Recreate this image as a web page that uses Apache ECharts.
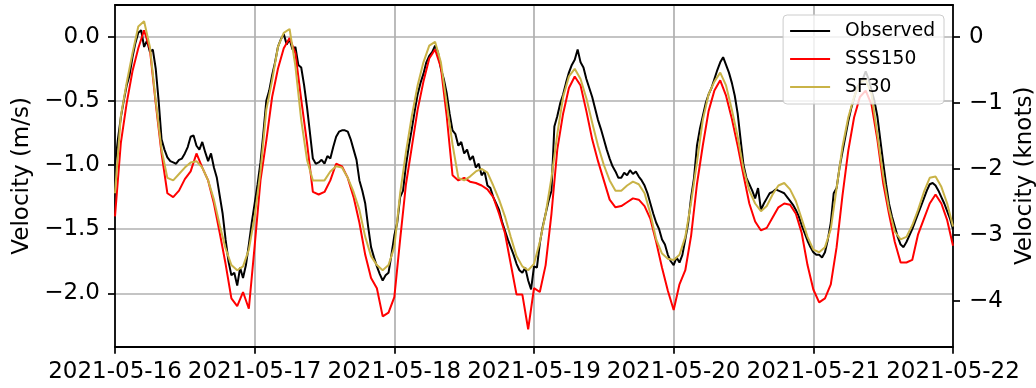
<!DOCTYPE html>
<html>
<head>
<meta charset="utf-8">
<script src="https://cdn.jsdelivr.net/npm/echarts@6/dist/echarts.min.js"></script>
<style>html,body{margin:0;padding:0;background:#fff}#c{width:1036px;height:388px}</style>
</head>
<body>
<div id="c"></div>
<script>
// ---- data (readings starting 2021-05-16 00:00 UTC) ----
const startDate = '2021-05-16T00:00:00Z';
const observedStepHours = 0.5;
const modelStepHours = 1;
const xTickLabels = ['2021-05-16','2021-05-17','2021-05-18','2021-05-19','2021-05-20','2021-05-21','2021-05-22'];
const leftTicks = [0, -0.5, -1.0, -1.5, -2.0];
const rightTicks = [0, -1, -2, -3, -4];
const yRange = [-2.416, 0.247];
const knotsPerMs = 1 / 0.514444;

// observed, every 30 minutes
const observed = [
 -1.00,-0.80,-0.63,-0.50,-0.38,-0.30,-0.16,-0.05,0.03,0.05,-0.08,-0.03,-0.12,-0.10,-0.25,-0.50,-0.80,-0.88,-0.94,-0.97,-0.98,-0.99,-0.96,-0.95,
 -0.91,-0.86,-0.78,-0.77,-0.85,-0.88,-0.82,-0.90,-0.97,-0.91,-1.02,-1.10,-1.24,-1.38,-1.58,-1.75,-1.86,-1.84,-1.94,-1.80,-1.88,-1.78,-1.62,-1.45,
 -1.30,-1.15,-0.98,-0.75,-0.50,-0.42,-0.30,-0.20,-0.08,-0.02,0.02,-0.06,-0.02,-0.10,-0.08,-0.22,-0.24,-0.38,-0.55,-0.75,-0.95,-0.99,-0.98,-0.96,
 -0.99,-0.93,-0.95,-0.86,-0.78,-0.74,-0.73,-0.73,-0.74,-0.80,-0.88,-0.96,-1.12,-1.20,-1.30,-1.48,-1.64,-1.72,-1.79,-1.85,-1.90,-1.86,-1.84,-1.70,
 -1.55,-1.45,-1.25,-1.20,-1.00,-0.85,-0.72,-0.58,-0.45,-0.36,-0.29,-0.20,-0.15,-0.12,-0.07,-0.12,-0.25,-0.33,-0.44,-0.60,-0.73,-0.76,-0.85,-0.82,
 -0.91,-0.88,-0.96,-0.93,-1.02,-0.99,-1.08,-1.05,-1.16,-1.18,-1.25,-1.30,-1.35,-1.44,-1.51,-1.58,-1.64,-1.70,-1.77,-1.82,-1.84,-1.80,-1.90,-1.97,
 -1.79,-1.80,-1.61,-1.48,-1.38,-1.28,-1.20,-0.70,-0.62,-0.52,-0.45,-0.36,-0.28,-0.22,-0.18,-0.10,-0.20,-0.24,-0.33,-0.40,-0.47,-0.56,-0.65,-0.72,
 -0.80,-0.88,-0.95,-1.01,-1.05,-1.10,-1.10,-1.06,-1.08,-1.04,-1.07,-1.05,-1.09,-1.12,-1.16,-1.22,-1.30,-1.38,-1.45,-1.50,-1.58,-1.62,-1.70,-1.75,
 -1.78,-1.72,-1.76,-1.70,-1.58,-1.45,-1.25,-1.10,-0.85,-0.72,-0.62,-0.52,-0.45,-0.40,-0.33,-0.26,-0.20,-0.16,-0.22,-0.28,-0.36,-0.46,-0.60,-0.80,
 -1.00,-1.10,-1.15,-1.20,-1.26,-1.18,-1.35,-1.30,-1.26,-1.22,-1.21,-1.19,-1.20,-1.21,-1.22,-1.25,-1.28,-1.31,-1.35,-1.40,-1.47,-1.53,-1.59,-1.64,
 -1.68,-1.70,-1.70,-1.72,-1.68,-1.58,-1.45,-1.22,-1.18,-1.02,-0.90,-0.78,-0.66,-0.56,-0.48,-0.40,-0.36,-0.33,-0.27,-0.33,-0.42,-0.50,-0.62,-0.80,
 -0.98,-1.15,-1.30,-1.40,-1.48,-1.56,-1.62,-1.64,-1.60,-1.55,-1.50,-1.44,-1.38,-1.32,-1.26,-1.20,-1.15,-1.14,-1.16,-1.20,-1.25,-1.30,-1.36,-1.42,
 -1.50
];
// models, hourly
const sss150 = [
 -1.40,-0.83,-0.52,-0.27,-0.09,0.05,-0.10,-0.52,-0.91,-1.22,-1.25,-1.20,-1.11,-1.05,-0.91,-1.02,-1.12,-1.30,-1.53,-1.77,-2.04,-2.10,-1.99,-2.12,
 -1.63,-1.12,-0.81,-0.47,-0.25,-0.09,-0.01,-0.13,-0.49,-0.83,-1.21,-1.23,-1.21,-1.12,-0.99,-1.01,-1.10,-1.25,-1.45,-1.70,-1.88,-1.96,-2.18,-2.15,
 -2.03,-1.58,-1.15,-0.86,-0.57,-0.35,-0.17,-0.10,-0.24,-0.62,-1.08,-1.12,-1.10,-1.13,-1.14,-1.16,-1.19,-1.25,-1.38,-1.53,-1.77,-2.01,-2.01,-2.28,
 -1.96,-1.99,-1.78,-1.38,-0.88,-0.60,-0.40,-0.31,-0.38,-0.58,-0.80,-0.97,-1.12,-1.27,-1.33,-1.32,-1.29,-1.26,-1.27,-1.32,-1.42,-1.60,-1.80,-1.98,
 -2.13,-1.93,-1.82,-1.55,-1.15,-0.85,-0.58,-0.42,-0.34,-0.46,-0.64,-0.85,-1.08,-1.30,-1.44,-1.51,-1.49,-1.41,-1.33,-1.30,-1.31,-1.38,-1.53,-1.78,
 -1.97,-2.07,-2.04,-1.93,-1.64,-1.24,-0.89,-0.63,-0.47,-0.42,-0.53,-0.80,-1.14,-1.38,-1.60,-1.76,-1.76,-1.74,-1.54,-1.42,-1.30,-1.23,-1.30,-1.43,
 -1.63
];
const sf30 = [
 -1.22,-0.62,-0.36,-0.13,0.08,0.12,-0.08,-0.50,-0.88,-1.10,-1.12,-1.07,-1.02,-0.98,-0.97,-1.02,-1.12,-1.27,-1.47,-1.65,-1.78,-1.82,-1.79,-1.66,
 -1.40,-1.05,-0.57,-0.34,-0.08,0.03,0.06,-0.23,-0.65,-0.96,-1.12,-1.12,-1.12,-1.05,-1.01,-1.02,-1.10,-1.21,-1.35,-1.56,-1.71,-1.78,-1.82,-1.78,
 -1.64,-1.22,-0.90,-0.62,-0.38,-0.20,-0.07,-0.04,-0.20,-0.52,-0.84,-1.10,-1.12,-1.09,-1.05,-1.03,-1.06,-1.16,-1.27,-1.40,-1.56,-1.71,-1.79,-1.82,
 -1.77,-1.60,-1.38,-1.10,-0.76,-0.47,-0.31,-0.25,-0.33,-0.48,-0.67,-0.85,-1.00,-1.12,-1.20,-1.20,-1.16,-1.13,-1.15,-1.22,-1.38,-1.58,-1.69,-1.73,
 -1.74,-1.70,-1.56,-1.29,-0.98,-0.65,-0.45,-0.35,-0.28,-0.38,-0.57,-0.78,-1.03,-1.20,-1.30,-1.36,-1.32,-1.23,-1.16,-1.14,-1.19,-1.28,-1.42,-1.56,
 -1.66,-1.68,-1.64,-1.50,-1.18,-0.86,-0.63,-0.47,-0.36,-0.33,-0.45,-0.76,-1.08,-1.34,-1.52,-1.58,-1.56,-1.47,-1.35,-1.21,-1.10,-1.09,-1.17,-1.30,
 -1.48
];

// ---- build ----
const t0 = Date.parse(startDate);
const HOUR = 3600000, DAY = 86400000;
const toPairs = (arr, step) => arr.map((v, i) => [t0 + i * step * HOUR, v]);
const xMin = Date.parse(xTickLabels[0] + 'T00:00:00Z');
const xMax = Date.parse(xTickLabels[xTickLabels.length - 1] + 'T00:00:00Z');
const FONT = 'DejaVu Sans';
const minus = s => String(s).replace('-', '\u2212');
const SPINE = {color: '#000', width: 1.8};

const chart = echarts.init(document.getElementById('c'), null, {renderer: 'canvas'});
chart.setOption({
  animation: false,
  color: ['#000000', '#ff0000', '#c9b347'],
  grid: {left: 115, right: 83, top: 5, bottom: 41.3, show: false, outerBoundsMode: 'none'},
  legend: {
    orient: 'vertical', right: 92, top: 15,
    icon: 'rect', itemWidth: 40, itemHeight: 2, itemGap: 8,
    padding: [6, 9, 7, 7],
    backgroundColor: 'rgba(255,255,255,0.8)', borderColor: '#cccccc', borderWidth: 1, borderRadius: 4,
    textStyle: {fontFamily: FONT, fontSize: 18.7, color: '#000', lineHeight: 20, padding: [0, 0, 0, 10]},
    data: ['Observed', 'SSS150', 'SF30']
  },
  xAxis: [{
    type: 'value', position: 'bottom', min: xMin, max: xMax, interval: DAY,
    axisLine: {show: true, onZero: false, lineStyle: SPINE},
    axisTick: {show: true, length: 7, lineStyle: {color: '#000', width: 1.7}},
    axisLabel: {margin: 14, fontFamily: FONT, fontSize: 23, color: '#000',
      formatter: v => new Date(v).toISOString().slice(0, 10)},
    splitLine: {show: true, showMinLine: false, showMaxLine: false, lineStyle: {color: '#b0b0b0', width: 1.7}}
  }, {
    type: 'value', position: 'top', min: xMin, max: xMax, interval: DAY,
    axisLine: {show: true, onZero: false, lineStyle: SPINE},
    axisTick: {show: false}, axisLabel: {show: false}, splitLine: {show: false}
  }],
  yAxis: [{
    type: 'value', position: 'left', min: yRange[0], max: yRange[1],
    name: 'Velocity (m/s)', nameLocation: 'middle', nameRotate: 90, nameGap: 78,
    nameTextStyle: {fontFamily: FONT, fontSize: 23, color: '#000'},
    axisLine: {show: true, onZero: false, lineStyle: SPINE},
    axisTick: {show: true, length: 7, customValues: leftTicks, lineStyle: {color: '#000', width: 1.7}},
    axisLabel: {margin: 15, customValues: leftTicks, fontFamily: FONT, fontSize: 23, color: '#000',
      formatter: v => minus(Number(v).toFixed(1))},
    splitLine: {show: true, lineStyle: {color: '#b0b0b0', width: 1.7}}
  }, {
    type: 'value', position: 'right', min: yRange[0] * knotsPerMs, max: yRange[1] * knotsPerMs,
    name: 'Velocity (knots)', nameLocation: 'middle', nameRotate: 90, nameGap: 59,
    nameTextStyle: {fontFamily: FONT, fontSize: 23, color: '#000'},
    axisLine: {show: true, onZero: false, lineStyle: SPINE},
    axisTick: {show: true, length: 7, customValues: rightTicks, lineStyle: {color: '#000', width: 1.7}},
    axisLabel: {margin: 16, customValues: rightTicks, fontFamily: FONT, fontSize: 23, color: '#000',
      formatter: v => minus(Math.round(v))},
    splitLine: {show: false}
  }],
  series: [
    {name: 'Observed', type: 'line', data: toPairs(observed, observedStepHours), showSymbol: false, symbol: 'none', lineStyle: {width: 2}},
    {name: 'SSS150', type: 'line', data: toPairs(sss150, modelStepHours), showSymbol: false, symbol: 'none', lineStyle: {width: 2}},
    {name: 'SF30', type: 'line', data: toPairs(sf30, modelStepHours), showSymbol: false, symbol: 'none', lineStyle: {width: 2}}
  ]
});
</script>
</body>
</html>
